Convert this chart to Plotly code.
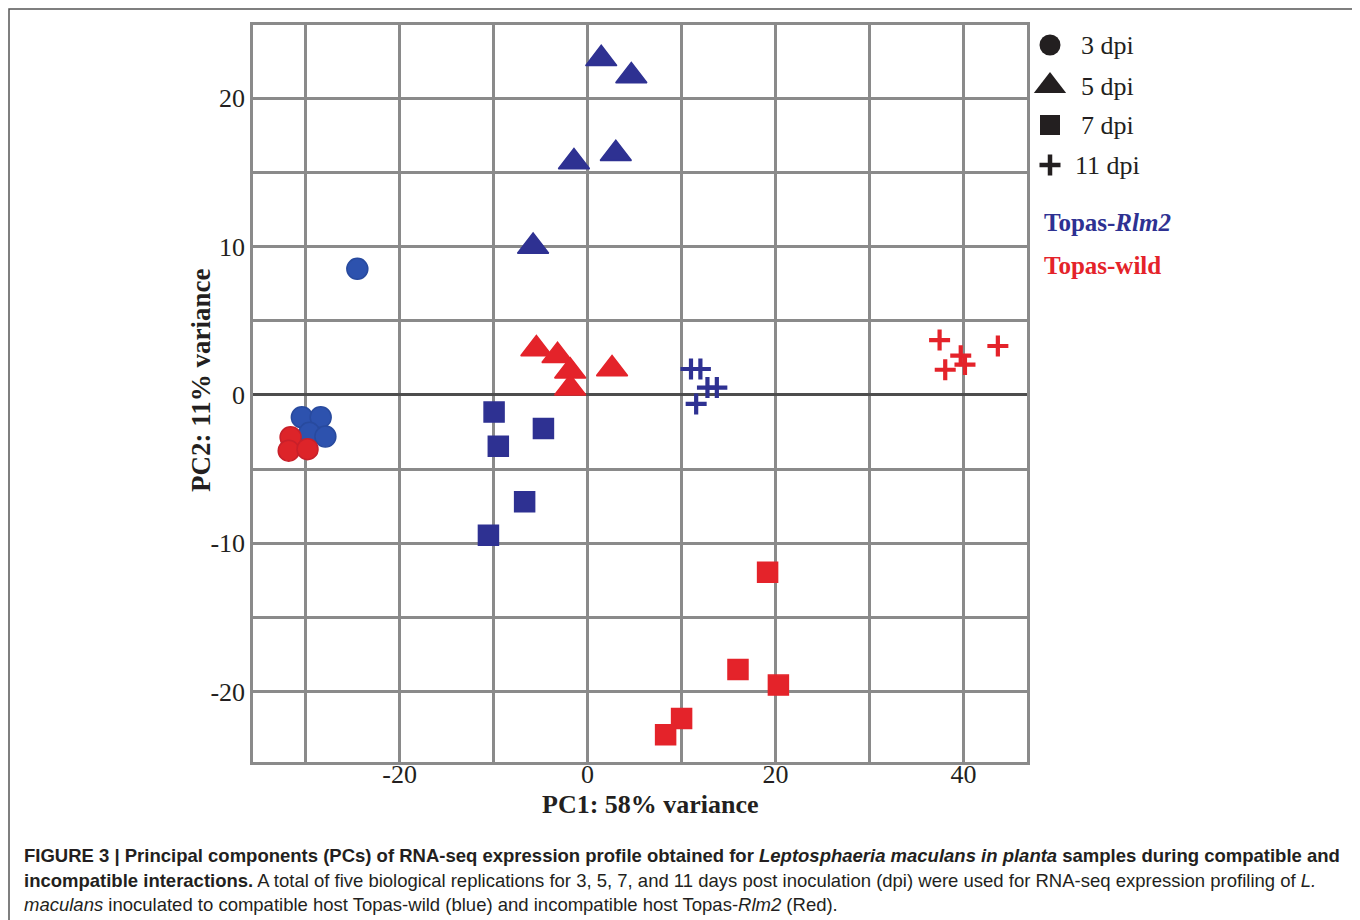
import plotly.graph_objects as go

# ---------------- data (PC1, PC2) ----------------
rlm2_3dpi_x = [-24.5, -30.4, -28.4, -29.6, -27.9]
rlm2_3dpi_y = [8.5, -1.5, -1.5, -2.55, -2.8]
wild_3dpi_x = [-31.6, -31.8, -29.8]
wild_3dpi_y = [-2.85, -3.75, -3.65]

rlm2_5dpi_x = [1.45, 4.65, -1.45, 3.0, -5.8]
rlm2_5dpi_y = [22.65, 21.5, 15.7, 16.25, 10.0]
wild_5dpi_x = [-5.45, -3.2, -1.85, -1.85, 2.6]
wild_5dpi_y = [3.1, 2.65, 1.6, 0.45, 1.75]

rlm2_7dpi_x = [-9.95, -4.7, -9.5, -6.7, -10.55]
rlm2_7dpi_y = [-1.15, -2.25, -3.45, -7.2, -9.45]
wild_7dpi_x = [19.15, 16.0, 20.3, 10.0, 8.3]
wild_7dpi_y = [-11.95, -18.5, -19.55, -21.8, -22.9]

rlm2_11dpi_x = [11.0, 12.0, 12.75, 13.75, 11.55]
rlm2_11dpi_y = [1.75, 1.75, 0.5, 0.5, -0.6]
wild_11dpi_x = [37.45, 39.7, 40.15, 38.05, 43.65]
wild_11dpi_y = [3.7, 2.65, 2.05, 1.7, 3.3]

x_tickvals = [-30, -20, -10, 0, 10, 20, 30, 40]
x_ticktext = ["", "-20", "", "0", "", "20", "", "40"]
y_tickvals = [-20, -15, -10, -5, 0, 5, 10, 15, 20]
y_ticktext = ["-20", "", "-10", "", "0", "", "10", "", "20"]

legend_labels = ["3 dpi", "5 dpi", "7 dpi", "11 dpi"]
group_labels = ["Topas-<i>Rlm2</i>", "Topas-wild"]

# ---------------- styling ----------------
OFF = 8                       # page body margin of the html page
W_REF, H_REF = 1360, 920      # reference picture size
W, H = W_REF - OFF, H_REF - OFF
L_REF, T_REF, BOT_REF, R_REF = 253, 25, 762, 1027   # plot box in reference pixels
L, T = L_REF - OFF, T_REF - OFF
B = H - (BOT_REF - OFF)
BLUE = "#2E3192"
BLUE_C = "#2D52AE"
RED = "#E4232A"
INK = "#231F20"
GRID = "#8A8A8A"
DARK = "#4D4D4D"
SERIF = "Liberation Serif, Times New Roman, serif"
SANS = "Liberation Sans, Arial, sans-serif"
DARK_VLINE_X = 10

PW = W - L          # paper width in px (r margin = 0)
PH = H - T - B      # paper height in px


def px2paper_x(px):       # px given in reference-picture pixels
    return (px - L_REF) / PW


def px2paper_y(py):
    return (BOT_REF - py) / PH


fig = go.Figure()

sym = {
    "circle": dict(symbol="circle", size=21),
    "tri": dict(symbol="triangle-up", size=27),
    "sq": dict(symbol="square", size=20),
}


def add_pts(x, y, kind, color, lcolor=None):
    if kind == "cross":
        m = dict(symbol="cross-thin", size=15, color=color,
                 line=dict(color=color, width=4.2))
    else:
        m = dict(color=color, line=dict(color=lcolor or color, width=1.5), **sym[kind])
    fig.add_trace(go.Scatter(x=x, y=y, mode="markers", marker=m,
                             showlegend=False, hoverinfo="skip"))


add_pts(rlm2_3dpi_x, rlm2_3dpi_y, "circle", BLUE_C, "#284A9E")
add_pts(wild_3dpi_x, wild_3dpi_y, "circle", "#DD2429", "#C8202A")
add_pts(rlm2_5dpi_x, rlm2_5dpi_y, "tri", BLUE)
add_pts(wild_5dpi_x, wild_5dpi_y, "tri", RED)
add_pts(rlm2_7dpi_x, rlm2_7dpi_y, "sq", BLUE)
add_pts(wild_7dpi_x, wild_7dpi_y, "sq", RED)
add_pts(rlm2_11dpi_x, rlm2_11dpi_y, "cross", BLUE)
add_pts(wild_11dpi_x, wild_11dpi_y, "cross", RED)

# ---------------- legend (drawn on a hidden pixel-scaled axis) ----------------
leg_sym_x = 1050
leg_y = [45, 86, 125, 165]
leg_text_x = 1107
leg_markers = [
    dict(symbol="circle", size=21, color=INK),
    dict(symbol="triangle-up", size=28, color=INK),
    dict(symbol="square", size=20, color=INK),
    dict(symbol="cross-thin", size=15, color=INK, line=dict(color=INK, width=4.5)),
]
for yy, m in zip(leg_y, leg_markers):
    fig.add_trace(go.Scatter(x=[leg_sym_x], y=[yy], mode="markers", marker=m,
                             xaxis="x2", yaxis="y2", showlegend=False,
                             hoverinfo="skip", cliponaxis=False))

annotations = []
for yy, lab in zip(leg_y, legend_labels):
    annotations.append(dict(x=leg_text_x, y=yy, xref="x2", yref="y2", text=lab,
                            showarrow=False, xanchor="center", yanchor="middle",
                            font=dict(family=SERIF, size=26, color=INK)))
for yy, lab, col in zip([222, 265], group_labels, [BLUE, RED]):
    annotations.append(dict(x=1042, y=yy, xref="x2", yref="y2", text="<b>" + lab + "</b>",
                            showarrow=False, xanchor="left", yanchor="middle",
                            font=dict(family=SERIF, size=25, color=col)))

# axis titles
annotations.append(dict(x=px2paper_x(650), y=px2paper_y(804), xref="paper", yref="paper",
                        text="<b>PC1: 58% variance</b>", showarrow=False,
                        xanchor="center", yanchor="middle",
                        font=dict(family=SERIF, size=26, color=INK)))
annotations.append(dict(x=px2paper_x(201), y=px2paper_y(381), xref="paper", yref="paper",
                        text="<b>PC2: 11% variance</b>", showarrow=False, textangle=-90,
                        xanchor="center", yanchor="middle",
                        font=dict(family=SERIF, size=27, color=INK)))

# caption
caption_lines = [
    "<b>FIGURE 3 | Principal components (PCs) of RNA-seq expression profile obtained for "
    "<i>Leptosphaeria maculans in planta</i> samples during compatible and</b>",
    "<b>incompatible interactions.</b> A total of five biological replications for 3, 5, 7, "
    "and 11 days post inoculation (dpi) were used for RNA-seq expression profiling of <i>L.</i>",
    "<i>maculans</i> inoculated to compatible host Topas-wild (blue) and incompatible host "
    "Topas-<i>Rlm2</i> (Red).",
]
for yy, line in zip([855, 880, 905], caption_lines):
    annotations.append(dict(x=px2paper_x(22), y=px2paper_y(yy), xref="paper", yref="paper",
                            text=line, showarrow=False, xanchor="left", yanchor="middle",
                            font=dict(family=SANS, size=18.5, color=INK)))

shapes = [
    dict(type="line", xref="x", yref="paper", x0=DARK_VLINE_X, x1=DARK_VLINE_X, y0=0, y1=1,
         line=dict(color=DARK, width=2.5), layer="below"),
    dict(type="rect", xref="paper", yref="paper",
         x0=px2paper_x(OFF + 1), x1=px2paper_x(1355), y0=px2paper_y(930),
         y1=px2paper_y(OFF + 1),
         line=dict(color="#555555", width=1.5), layer="below"),
]

fig.update_layout(
    width=W, height=H,
    margin=dict(l=L, r=0, t=T, b=B),
    paper_bgcolor="white", plot_bgcolor="white",
    showlegend=False,
    xaxis=dict(domain=[0, (R_REF - L_REF) / PW], range=[-35.6, 46.75],
               tickvals=x_tickvals, ticktext=x_ticktext, ticks="",
               ticklabelstandoff=-13,
               showgrid=True, gridcolor=GRID, gridwidth=2.5, zeroline=False,
               showline=True, mirror=True, linecolor=GRID, linewidth=2.5,
               tickfont=dict(family=SERIF, size=26, color=INK)),
    yaxis=dict(domain=[0, 1], range=[-24.73, 24.93],
               tickvals=y_tickvals, ticktext=y_ticktext, ticks="",
               showgrid=True, gridcolor=GRID, gridwidth=2.5,
               zeroline=True, zerolinecolor=DARK, zerolinewidth=2.5,
               showline=True, mirror=True, linecolor=GRID, linewidth=2.5,
               tickfont=dict(family=SERIF, size=26, color=INK)),
    xaxis2=dict(domain=[(R_REF - L_REF) / PW, 1], range=[R_REF, W_REF], visible=False,
                anchor="y2", fixedrange=True),
    yaxis2=dict(domain=[0, 1], range=[BOT_REF, T_REF], visible=False, anchor="x2",
                fixedrange=True),
    annotations=annotations,
    shapes=shapes,
)

fig.write_html("out.html")
